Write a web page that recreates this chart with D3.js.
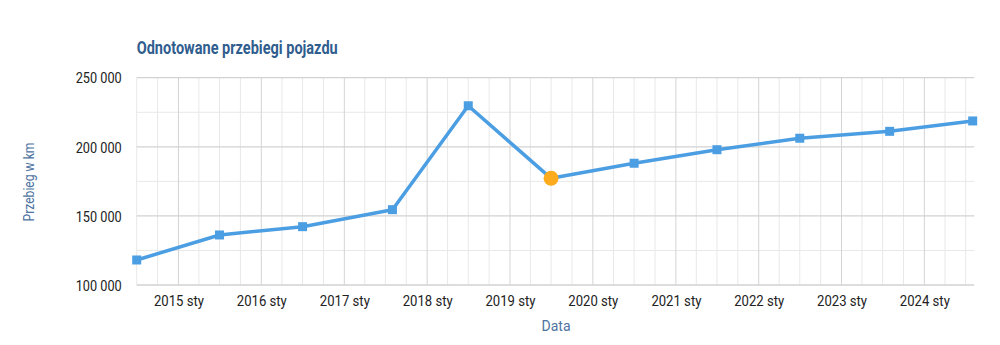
<!DOCTYPE html>
<html>
<head>
<meta charset="utf-8">
<script src="https://cdn.jsdelivr.net/npm/d3@7"></script>
<style>
  html, body { margin: 0; padding: 0; background: #fff; }
  svg { display: block; font-family: Roboto, "Noto Sans", sans-serif; }
</style>
</head>
<body>
<svg id="chart" width="1000" height="345"></svg>
<script>
// Recorded odometer readings (month of reading, km)
const readingDates = ["2014-07", "2015-07", "2016-07", "2017-08", "2018-07", "2019-07",
                      "2020-07", "2021-07", "2022-07", "2023-08", "2024-08"];
const mileageKm = [118100, 136200, 142200, 154500, 229700, 177200,
                   188100, 197900, 206200, 211200, 218700];
// Reading highlighted with the orange marker
const highlightDate = "2019-07";

const yTicks = [100000, 150000, 200000, 250000];
const yMinorTicks = [125000, 175000, 225000];
const xTickYears = [2015, 2016, 2017, 2018, 2019, 2020, 2021, 2022, 2023, 2024];
const titleText = "Odnotowane przebiegi pojazdu";
const xAxisTitle = "Data";
const yAxisTitle = "Przebieg w km";

const parse = d3.timeParse("%Y-%m");
const data = readingDates.map((d, i) => ({ date: parse(d), km: mileageKm[i], key: d }));

const svg = d3.select("#chart");
const margin = { left: 136.7, right: 1000 - 972.7, top: 77.7, bottom: 345 - 285 };
const W = 1000, H = 345;

const x = d3.scaleTime()
  .domain(d3.extent(data, d => d.date))
  .range([margin.left, W - margin.right]);
const y = d3.scaleLinear()
  .domain([100000, 250000])
  .range([H - margin.bottom, margin.top]);

const fmt = v => d3.format(",")(v).replace(/,/g, " ");
const plotRight = W - margin.right + 1.5;

// Grid: quarterly minor verticals, yearly major verticals
const g = svg.append("g");
const quarters = d3.timeMonth.every(3).range(x.domain()[0], x.domain()[1]);
g.selectAll("line.vmin").data(quarters.filter(d => d.getMonth() !== 0)).join("line")
  .attr("x1", d => x(d)).attr("x2", d => x(d))
  .attr("y1", y(250000)).attr("y2", y(100000))
  .attr("stroke", "#e8e8e8").attr("stroke-width", 1);
g.selectAll("line.hmin").data(yMinorTicks).join("line")
  .attr("x1", margin.left).attr("x2", plotRight)
  .attr("y1", d => y(d)).attr("y2", d => y(d))
  .attr("stroke", "#e8e8e8").attr("stroke-width", 1);
const yearDates = xTickYears.map(yr => new Date(yr, 0, 1));
g.selectAll("line.vmaj").data(yearDates).join("line")
  .attr("x1", d => x(d)).attr("x2", d => x(d))
  .attr("y1", y(250000)).attr("y2", y(100000))
  .attr("stroke", "#d4d4d4").attr("stroke-width", 1);
g.selectAll("line.hmaj").data(yTicks).join("line")
  .attr("x1", margin.left).attr("x2", plotRight)
  .attr("y1", d => y(d)).attr("y2", d => y(d))
  .attr("stroke", "#d2d2d2").attr("stroke-width", 1.3);

// Y axis labels
const yAxis = d3.axisLeft(y).tickValues(yTicks).tickFormat(fmt).tickSize(0).tickPadding(15);
svg.append("g").attr("transform", `translate(${margin.left},0)`).call(yAxis)
  .call(s => s.select(".domain").remove())
  .call(s => s.selectAll("text").attr("font-size", 15).attr("fill", "#222")
    .attr("font-family", "Roboto, sans-serif").attr("dy", "0.35em")
    .attr("textLength", 46).attr("lengthAdjust", "spacingAndGlyphs"));

// X axis labels
const xAxis = d3.axisBottom(x).tickValues(yearDates)
  .tickFormat(d => d.getFullYear() + " sty").tickSize(0).tickPadding(10);
svg.append("g").attr("transform", `translate(0,${y(100000)})`).call(xAxis)
  .call(s => s.select(".domain").remove())
  .call(s => s.selectAll("text").attr("font-size", 15).attr("fill", "#222")
    .attr("font-family", "Roboto, sans-serif")
    .attr("textLength", 50).attr("lengthAdjust", "spacingAndGlyphs"));

// Series line
svg.append("path").datum(data)
  .attr("fill", "none").attr("stroke", "#4c9ee3").attr("stroke-width", 3.5)
  .attr("stroke-linejoin", "round")
  .attr("d", d3.line().x(d => x(d.date)).y(d => y(d.km)));

// Square markers
svg.selectAll("rect.pt").data(data.filter(d => d.key !== highlightDate)).join("rect")
  .attr("x", d => x(d.date) - 4.5).attr("y", d => y(d.km) - 4.5)
  .attr("width", 9).attr("height", 9).attr("fill", "#4c9ee3");

// Highlighted reading
svg.selectAll("circle.hl").data(data.filter(d => d.key === highlightDate)).join("circle")
  .attr("cx", d => x(d.date)).attr("cy", d => y(d.km)).attr("r", 7.5)
  .attr("fill", "#fbab1c");

// Titles
svg.append("text").attr("x", margin.left).attr("y", 54)
  .attr("font-size", 17.5).attr("font-weight", "bold").attr("fill", "#2f5d8e")
  .attr("textLength", 201).attr("lengthAdjust", "spacingAndGlyphs")
  .text(titleText);
svg.append("text").attr("x", 556).attr("y", 331).attr("text-anchor", "middle")
  .attr("font-size", 15).attr("fill", "#4e73a0")
  .attr("textLength", 29).attr("lengthAdjust", "spacingAndGlyphs").text(xAxisTitle);
svg.append("text").attr("transform", "translate(34,182) rotate(-90)")
  .attr("text-anchor", "middle").attr("font-size", 15).attr("fill", "#4e73a0")
  .attr("textLength", 79).attr("lengthAdjust", "spacingAndGlyphs")
  .text(yAxisTitle);
</script>
</body>
</html>
